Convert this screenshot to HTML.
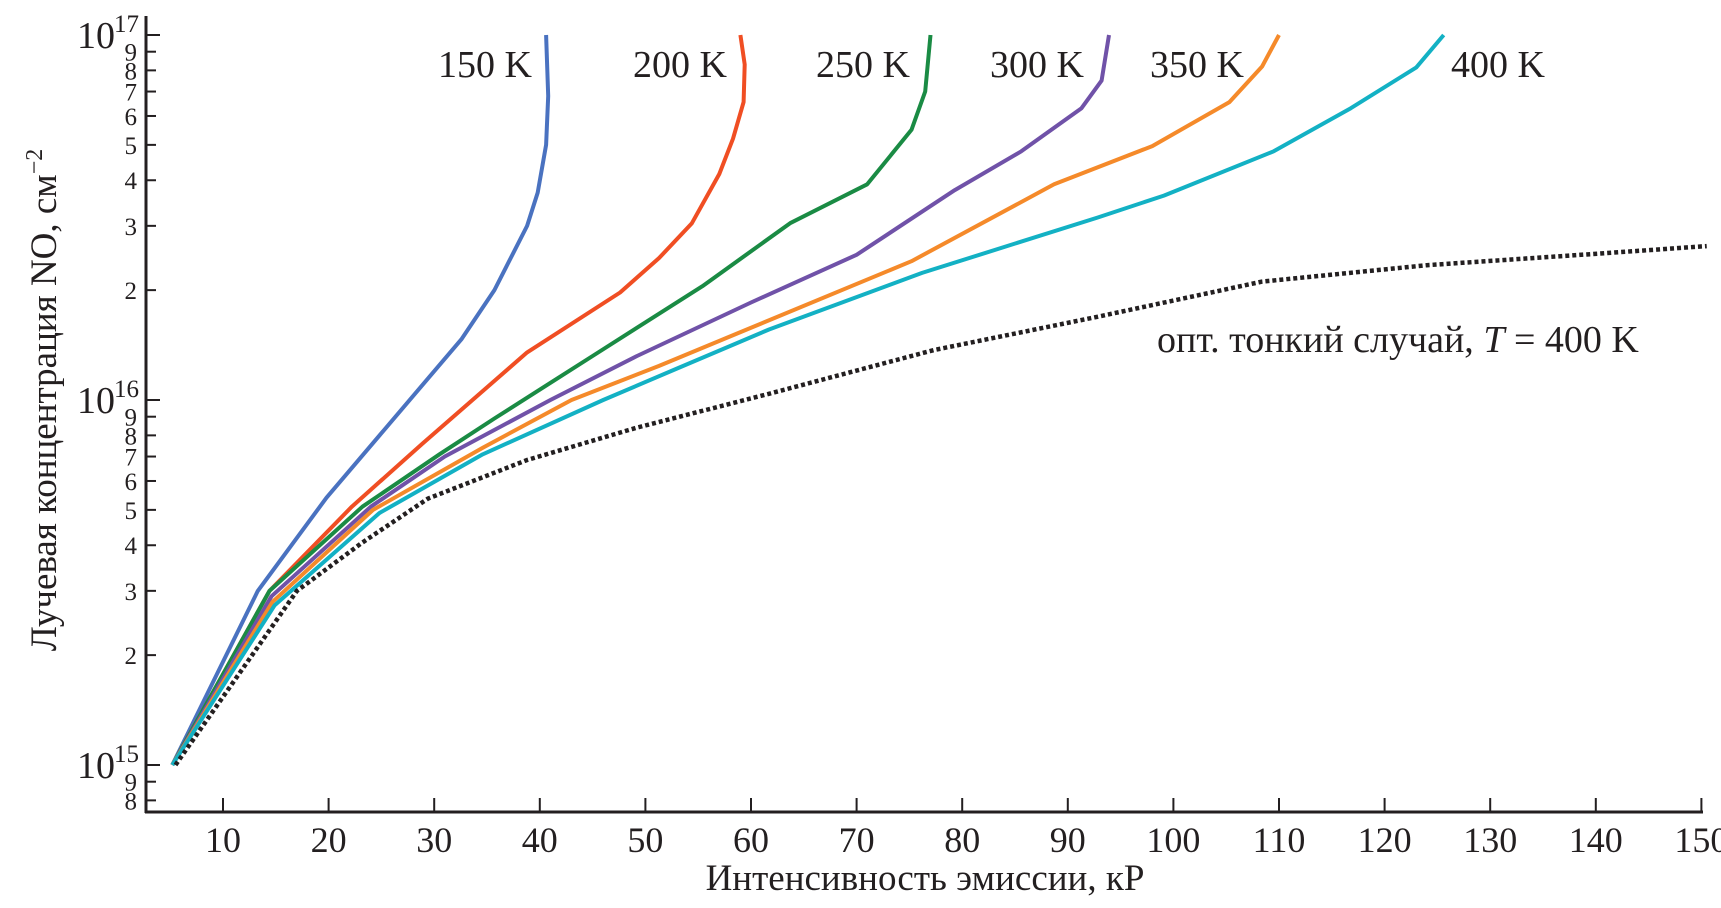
<!DOCTYPE html>
<html><head><meta charset="utf-8"><style>
html,body{margin:0;padding:0;background:#fff;}
svg{display:block;font-family:"Liberation Serif","Noto Serif CJK SC",serif;}
</style></head><body>
<svg id="chart" width="1721" height="908" viewBox="0 0 1721 908" xmlns="http://www.w3.org/2000/svg">
<g id="axes"></g>
<g id="series"></g>
<g id="labels"></g>
</svg>
<script>
const xTicks=[10,20,30,40,50,60,70,80,90,100,110,120,130,140,150];
const yMajor=[1,10,100];
const yMajorLabels=["15","16","17"];
const yMinor=[2,3,4,5,6,7,8,9];
const x150=[5.2,13.3,19.8,32.6,35.7,38.8,39.8,40.6,40.8,40.6];
const y150=[1,3.0,5.4,14.7,20,30,37,50,68,100];
const x200=[5.2,14.4,22.2,28.9,38.8,47.6,51.3,54.4,57,58.3,59.3,59.4,59];
const y200=[1,3.0,5.1,7.6,13.5,19.7,24.5,30.5,41.6,52,65.5,83,100];
const x250=[5.2,14.4,23.2,30.5,35.7,45,55.4,63.7,71,75.2,76.5,77];
const y250=[1,3.0,5.1,7.1,8.9,13.2,20.5,30.5,39,55,70,100];
const x300=[5.2,14.6,24,31,41,49.2,60,70,79.3,85.6,91.3,93.2,93.9];
const y300=[1,2.9,5.1,7.0,10,13.2,18.5,25,37.6,48,63,75,100];
const x350=[5.2,14.7,24.2,34.6,43,51.3,59.6,75.2,88.7,98,105.3,108.4,110];
const y350=[1,2.8,5.0,7.4,10,12.4,15.6,24,39,49.6,65.5,82,100];
const x400=[5.2,14.9,24.8,34.6,46,53,61.7,76.2,92.8,99.1,109.5,116.8,123,125.6];
const y400=[1,2.74,4.9,7.1,10,12.2,15.6,22.3,31.6,36.3,48,63,81.5,100];
const xThin=[5.5,17,23.2,29.4,38.8,49.2,61.7,77.3,92.8,108.4,124,139.6,150.5];
const yThin=[1,3.0,4.07,5.37,6.85,8.4,10.4,13.7,16.9,21.1,23.4,25.1,26.4];
const seriesNames=["150 K","200 K","250 K","300 K","350 K","400 K"];

const NS="http://www.w3.org/2000/svg";
const X0=223,XS=10.56,Y0=765,DEC=365;
const sx=v=>X0+(v-10)*XS;
const sy=v=>Y0-DEC*Math.log10(v);
function mk(tag,attrs,parent,txt){const e=document.createElementNS(NS,tag);for(const k in attrs)e.setAttribute(k,attrs[k]);if(txt!==undefined)e.textContent=txt;parent.appendChild(e);return e;}
const axes=document.getElementById('axes'),ser=document.getElementById('series'),lab=document.getElementById('labels');
const AX=146,AB=812;
let a=mk('line',{x1:AX,y1:16,x2:AX,y2:AB+1,stroke:'#231f20','stroke-width':3},axes);


a=mk('line',{x1:AX-1,y1:AB,x2:1703,y2:AB,stroke:'#231f20','stroke-width':3},axes);


xTicks.forEach(v=>{
 const t=mk('line',{x1:sx(v),y1:AB,x2:sx(v),y2:AB-14,stroke:'#231f20','stroke-width':2},axes);
 
 
 const l=mk('text',{x:sx(v),y:852,'text-anchor':'middle','font-size':36,fill:'#231f20'},axes,String(v));
 
 
});
yMajor.forEach((v,i)=>{
 const t=mk('line',{x1:AX,y1:sy(v),x2:AX+14,y2:sy(v),stroke:'#231f20','stroke-width':2},axes);
 
 
 const l=mk('text',{x:AX-31,y:sy(v)+13,'text-anchor':'end','font-size':38,fill:'#231f20'},axes,'10');
 
 
 const s=mk('text',{x:AX-32,y:sy(v)-3,'text-anchor':'start','font-size':25,fill:'#231f20'},axes,yMajorLabels[i]);
 
 
});
[0.1,1,10].forEach(d=>{yMinor.forEach(m=>{
 const v=d*m; if(v<0.79||v>100) return;
 const t=mk('line',{x1:AX,y1:sy(v),x2:AX+10,y2:sy(v),stroke:'#231f20','stroke-width':2},axes);
 
 
 const l=mk('text',{x:AX-9,y:sy(v)+9,'text-anchor':'end','font-size':25,fill:'#231f20'},axes,String(m));
 
 
});});
const xt=mk('text',{x:925,y:890,'text-anchor':'middle','font-size':37,fill:'#231f20'},lab,'Интенсивность эмиссии, кР');


const yt=mk('text',{x:0,y:0,transform:'translate(56,400) rotate(-90)','text-anchor':'middle','font-size':37,fill:'#231f20'},lab,'Лучевая концентрация NO, см');


mk('tspan',{dy:-14,'font-size':24},yt,'−2');

const allX=[x150,x200,x250,x300,x350,x400],allY=[y150,y200,y250,y300,y350,y400];
const colors=['#4a72c0','#f04e23','#1a8b44','#7052a8','#f58a2a','#13b1c4'];
const labX=[532,727,910,1084,1244,1545];
allX.forEach((xs,i)=>{
 const d=xs.map((v,j)=>(j?'L':'M')+sx(v).toFixed(1)+','+sy(allY[i][j]).toFixed(1)).join(' ');
 const p=mk('path',{d:d,fill:'none',stroke:colors[i],'stroke-width':4,'stroke-linejoin':'round'},ser);
 
 
 const l=mk('text',{x:labX[i],y:77,'text-anchor':'end','font-size':38,fill:'#231f20'},lab,seriesNames[i]);
 
 
});
const dThin=xThin.map((v,j)=>(j?'L':'M')+sx(v).toFixed(1)+','+sy(yThin[j]).toFixed(1)).join(' ');
const pt=mk('path',{d:dThin,fill:'none',stroke:'#231f20','stroke-width':4.5,'stroke-dasharray':'4 3'},ser);


const tl=mk('text',{x:1157,y:352,'font-size':38,fill:'#231f20'},lab,'опт. тонкий случай, ');


mk('tspan',{'font-style':'italic'},tl,'T');
mk('tspan',{},tl,' = 400 K');
</script>
</body></html>
